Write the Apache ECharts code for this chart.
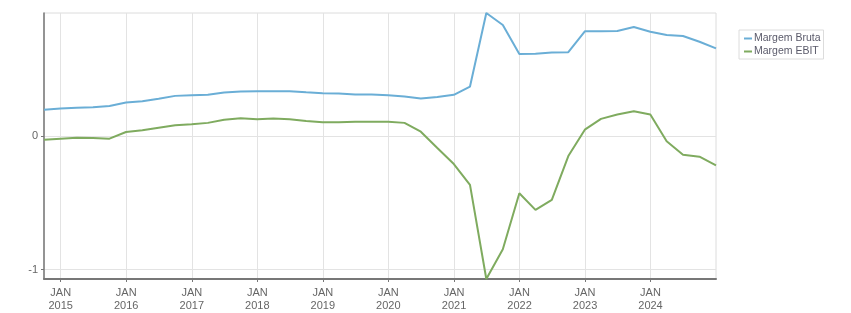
<!DOCTYPE html>
<html>
<head>
<meta charset="utf-8">
<script src="https://cdn.jsdelivr.net/npm/echarts@6/dist/echarts.min.js"></script>
<style>html,body{margin:0;padding:0;background:#fff;}#c{width:851px;height:313px;}</style>
</head>
<body>
<div id="c"></div>
<script>
var quarters = ['2014-09-30','2014-12-31','2015-03-31','2015-06-30','2015-09-30','2015-12-31','2016-03-31','2016-06-30','2016-09-30','2016-12-31','2017-03-31','2017-06-30','2017-09-30','2017-12-31','2018-03-31','2018-06-30','2018-09-30','2018-12-31','2019-03-31','2019-06-30','2019-09-30','2019-12-31','2020-03-31','2020-06-30','2020-09-30','2020-12-31','2021-03-31','2021-06-30','2021-09-30','2021-12-31','2022-03-31','2022-06-30','2022-09-30','2022-12-31','2023-03-31','2023-06-30','2023-09-30','2023-12-31','2024-03-31','2024-06-30','2024-09-30','2024-12-31'];
var margemBruta = [0.197,0.205,0.212,0.214,0.225,0.25,0.26,0.278,0.30,0.305,0.308,0.325,0.333,0.335,0.335,0.335,0.327,0.32,0.318,0.31,0.31,0.305,0.295,0.28,0.292,0.308,0.37,0.92,0.83,0.613,0.615,0.625,0.627,0.783,0.783,0.785,0.815,0.78,0.755,0.748,0.705,0.655];
var margemEbit = [-0.028,-0.02,-0.013,-0.015,-0.02,0.03,0.042,0.062,0.08,0.087,0.098,0.122,0.132,0.125,0.13,0.125,0.112,0.102,0.102,0.107,0.107,0.107,0.098,0.032,-0.09,-0.21,-0.366,-1.07,-0.848,-0.428,-0.553,-0.478,-0.15,0.047,0.128,0.16,0.185,0.16,-0.04,-0.14,-0.155,-0.22];
var seriesNames = ['Margem Bruta','Margem EBIT'];
var tickYears = [2015,2016,2017,2018,2019,2020,2021,2022,2023,2024];
var tickMonth = 'JAN';
var yTicks = [-1, 0];

function ts(s){ var p = s.split('-'); return Date.UTC(+p[0], +p[1]-1, +p[2]); }
var xTicks = tickYears.map(function(y){ return Date.UTC(y,0,1); });
function pairs(vals){ return quarters.map(function(q,i){ return [ts(q), vals[i]]; }); }
var lblColor = '#666';
var font = 'Liberation Sans, Arial, sans-serif';
var chart = echarts.init(document.getElementById('c'));
chart.setOption({
  animation: false,
  grid: { left: 44, right: 135, top: 13, bottom: 34, show: true, borderColor: '#dcdcdc', borderWidth: 1 },
  legend: {
    orient: 'vertical', left: 739, top: 30,
    data: seriesNames,
    icon: 'rect', itemWidth: 8, itemHeight: 2, itemGap: 0,
    borderColor: '#dcdcdc', borderWidth: 1, padding: [2, 3, 1, 5],
    textStyle: { color: '#5a5a6a', fontSize: 10.5, fontFamily: font, lineHeight: 13, padding: [0,0,0,-3] }
  },
  xAxis: {
    type: 'value',
    min: ts(quarters[0]), max: ts(quarters[quarters.length-1]),
    axisLine: { show: true, onZero: false, lineStyle: { color: '#777', width: 2 } },
    axisTick: { show: true, length: 3, customValues: xTicks, lineStyle: { color: '#777' } },
    axisLabel: { customValues: xTicks, color: lblColor, fontSize: 11, fontFamily: font, lineHeight: 13.5, margin: 7,
      formatter: function(v){ return tickMonth + '\n' + new Date(v).getUTCFullYear(); } },
    splitLine: { show: true, lineStyle: { color: '#e3e3e3', width: 1 } }
  },
  yAxis: {
    type: 'value',
    min: -1.07, max: 0.92,
    axisLine: { show: true, lineStyle: { color: '#777', width: 1.5 } },
    axisTick: { show: true, length: 3, customValues: yTicks, lineStyle: { color: '#777' } },
    axisLabel: { customValues: yTicks, color: lblColor, fontSize: 11, fontFamily: font, margin: 6 },
    splitLine: { show: true, lineStyle: { color: '#e3e3e3', width: 1 } }
  },
  series: [
    { name: seriesNames[0], type: 'line', data: pairs(margemBruta), showSymbol: false, symbol: 'none',
      lineStyle: { color: '#6aaed6', width: 2 }, itemStyle: { color: '#6aaed6' } },
    { name: seriesNames[1], type: 'line', data: pairs(margemEbit), showSymbol: false, symbol: 'none',
      lineStyle: { color: '#7fab5f', width: 2 }, itemStyle: { color: '#7fab5f' } }
  ]
});
</script>
</body>
</html>
